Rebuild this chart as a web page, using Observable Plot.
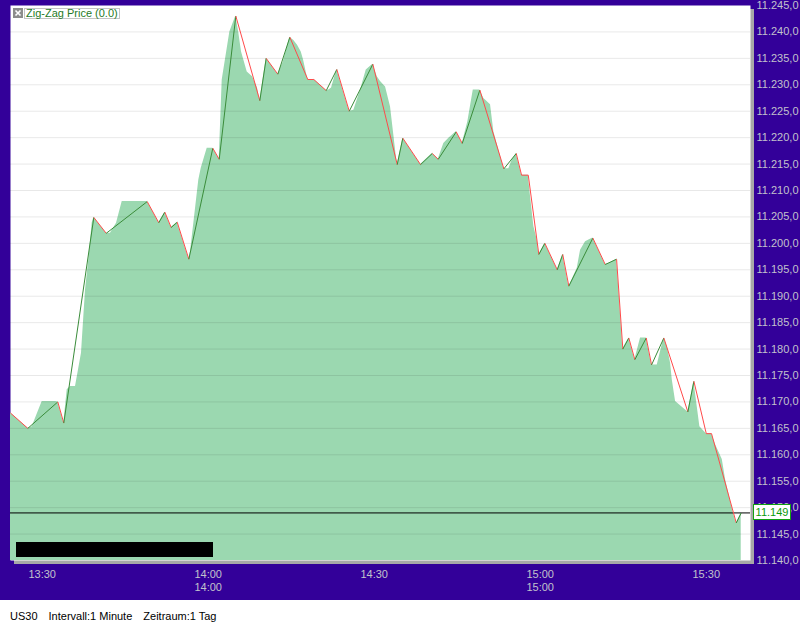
<!DOCTYPE html>
<html>
<head>
<meta charset="utf-8">
<script src="https://cdn.jsdelivr.net/npm/d3@7"></script>
<script src="https://cdn.jsdelivr.net/npm/@observablehq/plot@0.6"></script>
<style>
  body { margin: 0; background: #ffffff; font-family: "Liberation Sans", Arial, sans-serif; }
  #wrap { position: relative; width: 800px; height: 625px; overflow: hidden; }
  #chart svg { display: block; }
  #legend { position: absolute; left: 13px; top: 8px; display: flex; align-items: flex-start; }
  #legend span { margin-left: 1px; border: 1px solid #c4c4c4; padding: 0 1px; color: #1f7a1f; font-size: 11px; line-height: 9px; height: 9px; background: #fff; }
  #lastBox { position: absolute; left: 753px; width: 36px; height: 14px; border: 1px solid #12a012; background: #fff; color: #0a9a0a; font-size: 11px; line-height: 14px; text-align: center; }
  #redact { position: absolute; left: 16px; top: 542px; width: 197px; height: 15px; background: #000; }
  #footer { position: absolute; left: 0; top: 600px; width: 800px; height: 25px; background: #fff; font-size: 11px; color: #000; }
  #footer div { position: absolute; left: 10px; top: 10px; white-space: nowrap; }
  #footer span { margin-right: 11px; }
</style>
</head>
<body>
<div id="wrap">
  <div id="chart"></div>
</div>
<script>
// ---- texts ----
const instrument = "US30";
const intervalText = "Intervall:1 Minute";
const periodText = "Zeitraum:1 Tag";
const legendLabel = "Zig-Zag Price (0.0)";

// ---- axes (x in minutes after 13:30) ----
const xDomain = [-5.73, 128.0];
const xTickValues = [0, 30, 60, 90, 120];
const xTickLabels = ["13:30", "14:00\n14:00", "14:30", "15:00\n15:00", "15:30"];
const yDomain = [11140, 11245];
const yTickValues = [11140, 11145, 11150, 11155, 11160, 11165, 11170, 11175, 11180, 11185, 11190,
                     11195, 11200, 11205, 11210, 11215, 11220, 11225, 11230, 11235, 11240, 11245];

// ---- price area (minutes after 13:30, price) ----
const areaMinute = [-5.73,-2.60,-1.81,0,2.40,2.82,3.90,4.52,5.11,6.02,
  7.10,7.83,8.42,9.04,9.33,11.57,12.34,12.65,13.43,14.46,
  18.98,21.07,22.16,23.31,24.40,26.50,26.80,27.40,28.30,28.74,
  29.82,30.83,31.99,32.53,33.91,34.99,35.53,36.02,37.05,38.01,
  38.91,39.33,40.48,42.58,43.56,44.75,45.47,46.14,46.81,47.23,
  48.00,49.09,51.33,51.80,52.29,53.24,55.49,56.32,57.53,58.56,
  59.75,60.55,61.14,62.05,62.95,64.16,65.17,68.37,70.49,71.57,
  72.58,73.49,74.82,75.91,76.92,77.90,79.09,79.81,81.02,81.62,
  83.43,84.33,84.95,85.67,86.63,87.84,88.25,88.85,89.46,89.75,
  90.84,93.08,94.07,95.17,95.48,96.69,97.29,98.19,99.51,101.75,
  102.40,103.80,104.16,104.93,106.01,107.10,108.13,109.16,110.12,111.15,
  112.34,112.96,113.56,113.86,114.46,116.68,117.77,118.85,120.01,120.96,
  121.69,122.90,123.50,124.89,125.43,126.32];
const areaPrice = [11167.9,11165.0,11165.3,11170.1,11170.1,11170.0,11166.0,11172.3,11172.9,11172.9,
  11179.2,11191.2,11196.9,11203.9,11204.9,11201.9,11201.9,11202.5,11203.8,11207.9,
  11207.9,11203.9,11205.9,11203.0,11204.0,11197.0,11198.4,11203.8,11212.0,11214.2,
  11218.0,11218.0,11215.9,11230.9,11240.0,11243.0,11239.8,11236.2,11232.4,11231.5,
  11229.4,11227.0,11235.0,11232.0,11234.3,11239.0,11238.4,11237.5,11236.2,11234.7,
  11231.0,11231.0,11228.9,11229.0,11229.4,11232.9,11225.0,11225.2,11229.0,11232.8,
  11233.9,11231.5,11230.6,11229.6,11225.8,11214.9,11219.9,11214.9,11217.0,11215.9,
  11218.9,11219.9,11221.1,11218.9,11223.0,11229.0,11229.0,11227.4,11226.2,11221.1,
  11214.1,11214.1,11215.8,11217.0,11212.9,11212.9,11208.8,11203.2,11200.6,11197.9,
  11200.0,11195.0,11197.9,11191.9,11192.5,11195.3,11198.7,11200.3,11201.0,11196.0,
  11196.2,11197.0,11192.1,11180.0,11182.1,11178.0,11182.1,11182.1,11177.0,11177.0,
  11182.1,11180.5,11177.3,11174.2,11170.1,11168.1,11173.9,11165.3,11164.0,11164.0,
  11161.9,11159.1,11155.3,11149.0,11147.1,11149.0];

// ---- zig-zag pivots ----
const zigMinute = [-5.73,-2.60,2.82,3.90,9.33,11.57,18.98,21.07,22.16,23.31,
  24.40,26.50,30.83,31.99,34.99,39.33,40.48,42.58,44.75,48.00,
  49.09,51.33,53.24,55.49,59.75,64.16,65.17,68.37,70.49,71.57,
  74.82,75.91,79.09,83.43,85.67,86.63,87.84,89.75,90.84,93.08,
  94.07,95.17,99.51,101.75,103.80,104.93,106.01,107.10,109.16,110.12,
  112.34,116.68,117.77,120.01,120.96,125.43,126.32];
const zigPrice = [11167.9,11165.0,11170.0,11166.0,11204.9,11201.9,11207.9,11203.9,11205.9,11203.0,
  11204.0,11197.0,11218.0,11215.9,11243.0,11227.0,11235.0,11232.0,11239.0,11231.0,
  11231.0,11228.9,11232.9,11225.0,11233.9,11214.9,11219.9,11214.9,11217.0,11215.9,
  11221.1,11218.9,11229.0,11214.1,11217.0,11212.9,11212.9,11197.9,11200.0,11195.0,
  11197.9,11191.9,11201.0,11196.0,11197.0,11180.0,11182.1,11178.0,11182.1,11177.0,
  11182.1,11168.1,11173.9,11164.0,11164.0,11147.1,11149.0];

const lastPrice = 11149;

// ---- derived tables ----
const areaData = areaMinute.map((m, i) => ({m, v: areaPrice[i]}));
const segs = zigMinute.slice(1).map((m, i) => ({
  x1: zigMinute[i], y1: zigPrice[i], x2: m, y2: zigPrice[i + 1], up: zigPrice[i + 1] > zigPrice[i]
}));

const de = d3.formatLocale({decimal: ",", thousands: ".", grouping: [3], currency: ["", "€"]});
const yFmt = de.format(",.1f");

const chart = Plot.plot({
  width: 800,
  height: 600,
  marginTop: 5,
  marginBottom: 40,
  marginLeft: 10,
  marginRight: 50,
  style: {background: "#330099", fontFamily: "'Liberation Sans', Arial, sans-serif", fontSize: "11px", overflow: "visible"},
  x: {domain: xDomain, axis: null},
  y: {domain: yDomain, axis: null},
  marks: [
    Plot.frame({fill: "#a8a8a8", stroke: "none", dx: 3.5, dy: 3.5}),
    Plot.frame({fill: "#ffffff", stroke: "none"}),
    Plot.areaY(areaData, {x: "m", y1: () => yDomain[0], y2: "v", fill: "#9bd8b0"}),
    Plot.gridY(yTickValues.slice(1, -1), {stroke: "#000", strokeOpacity: 0.09, strokeWidth: 1}),
    Plot.ruleY([lastPrice], {stroke: "#000", strokeWidth: 1}),
    Plot.link(segs, {x1: "x1", y1: "y1", x2: "x2", y2: "y2",
      stroke: d => d.up ? "#3a8c3a" : "#ff4a4a", strokeWidth: 1}),
    Plot.axisY({anchor: "right", ticks: yTickValues, tickSize: 0, tickPadding: 6,
      tickFormat: d => yFmt(d), color: "#c2c2cc", fontSize: 11}),
    Plot.axisX({anchor: "bottom", ticks: xTickValues, tickSize: 0, tickPadding: 9,
      tickFormat: d => xTickLabels[xTickValues.indexOf(d)], color: "#c2c2cc", fontSize: 11, lineHeight: 1.13})
  ]
});
document.getElementById("chart").appendChild(chart);

const wrap = document.getElementById("wrap");

// legend
const legend = document.createElement("div");
legend.id = "legend";
legend.innerHTML = '<svg width="10" height="10"><rect width="10" height="10" fill="#8c8c8c"/>' +
  '<path d="M2.5 2.5L7.5 7.5M7.5 2.5L2.5 7.5" stroke="#fff" stroke-width="1.6"/></svg>';
const ls = document.createElement("span");
ls.textContent = legendLabel;
legend.appendChild(ls);
wrap.appendChild(legend);

// last price box
const yPos = chart.scale("y").apply(lastPrice);
const box = document.createElement("div");
box.id = "lastBox";
box.style.top = (yPos - 8) + "px";
box.textContent = d3.format(".3f")(lastPrice / 1000);
wrap.appendChild(box);

// redaction bar
const red = document.createElement("div");
red.id = "redact";
wrap.appendChild(red);

// footer
const footer = document.createElement("div");
footer.id = "footer";
const fi = document.createElement("div");
[instrument, intervalText, periodText].forEach(t => {
  const s = document.createElement("span");
  s.textContent = t;
  fi.appendChild(s);
});
footer.appendChild(fi);
wrap.appendChild(footer);
</script>
</body>
</html>
